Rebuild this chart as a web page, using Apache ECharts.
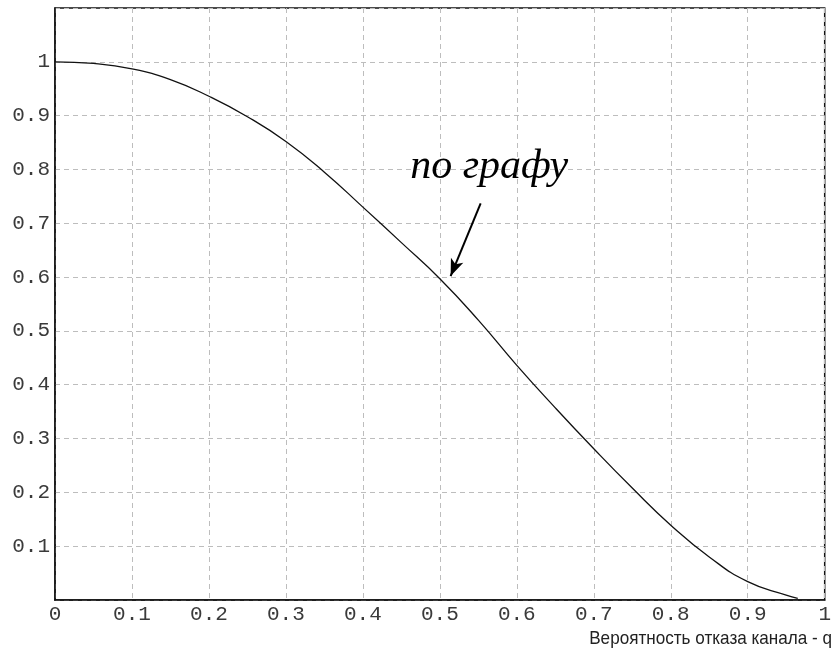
<!DOCTYPE html>
<html>
<head>
<meta charset="utf-8">
<script src="https://cdn.jsdelivr.net/npm/echarts@6/dist/echarts.min.js"></script>
<style>
  html, body { margin: 0; padding: 0; background: #fff; }
  #chart { width: 834px; height: 659px; }
</style>
</head>
<body>
<div id="chart"></div>
<script>
// Network reliability versus channel failure probability q
const qValues = [0, 0.05, 0.1, 0.15, 0.2, 0.25, 0.3, 0.35, 0.4, 0.45, 0.5,
                 0.55, 0.6, 0.65, 0.7, 0.75, 0.8, 0.85, 0.9, 0.95, 0.965];
const reliability = [1.000, 0.997, 0.987, 0.967, 0.936, 0.898, 0.852, 0.795, 0.730, 0.664, 0.597,
                     0.520, 0.436, 0.357, 0.281, 0.208, 0.139, 0.080, 0.034, 0.009, 0.003];

const xAxisTitle = 'Вероятность отказа канала - q';
const noteText = 'по графу';
// annotation: text anchor and arrow (tail -> head) in data units
const notePos = [0.564, 0.805];
const arrowFrom = [0.553, 0.737];
const arrowTo = [0.514, 0.602];

const tickFmt = v => {
  const r = Math.round(v * 10) / 10;
  if (r === 0) return '0';
  if (r === 1) return '1';
  return r.toFixed(1);
};

const monoLabel = {
  fontFamily: '"Liberation Mono", "DejaVu Sans Mono", monospace',
  fontSize: 21,
  color: '#3a3a3a'
};

const gridLine = {
  show: true,
  lineStyle: { color: '#bdbdbd', width: 1, type: [5, 4] }
};

const chart = echarts.init(document.getElementById('chart'), null, { renderer: 'canvas' });
chart.setOption({
  animation: false,
  backgroundColor: '#fff',
  grid: {
    left: 55, right: 7, top: 8, bottom: 59,
    show: true, borderColor: '#111', borderWidth: 1.5, backgroundColor: 'transparent'
  },
  xAxis: {
    type: 'value',
    min: 0, max: 1, interval: 0.1,
    axisLine: { show: true, lineStyle: { color: '#111', width: 1.5 } },
    axisTick: { show: false },
    splitLine: gridLine,
    axisLabel: Object.assign({ margin: 4, formatter: tickFmt }, monoLabel)
  },
  yAxis: {
    type: 'value',
    min: 0, max: 1.1, interval: 0.1,
    axisLine: { show: true, lineStyle: { color: '#111', width: 1.5 } },
    axisTick: { show: false },
    splitLine: gridLine,
    axisLabel: Object.assign({
      margin: 5,
      formatter: v => {
        const r = Math.round(v * 10) / 10;
        if (r === 0 || r > 1) return '';
        return tickFmt(v);
      }
    }, monoLabel)
  },
  graphic: [{
    type: 'text',
    right: 2,
    bottom: 11,
    scaleX: 0.9,
    originX: 832,
    style: {
      text: xAxisTitle,
      font: '19px "Liberation Sans", Arial, sans-serif',
      fill: '#222'
    }
  }],
  series: [{
    type: 'line',
    data: qValues.map((q, i) => [q, reliability[i]]),
    smooth: 0.5,
    showSymbol: false,
    lineStyle: { color: '#111', width: 1.3 },
    emphasis: { disabled: true },
    markPoint: {
      silent: true,
      symbol: 'circle',
      symbolSize: 0,
      data: [{ coord: notePos, value: noteText }],
      label: {
        show: true,
        position: 'inside',
        formatter: noteText,
        fontFamily: '"Liberation Serif", "Times New Roman", serif',
        fontStyle: 'italic',
        fontSize: 42,
        color: '#000'
      }
    },
    markLine: {
      silent: true,
      symbol: ['none', 'arrow'],
      symbolSize: [10, 17],
      label: { show: false },
      lineStyle: { color: '#000', width: 2, type: 'solid' },
      data: [[{ coord: arrowFrom }, { coord: arrowTo }]]
    }
  }]
});
</script>
</body>
</html>
